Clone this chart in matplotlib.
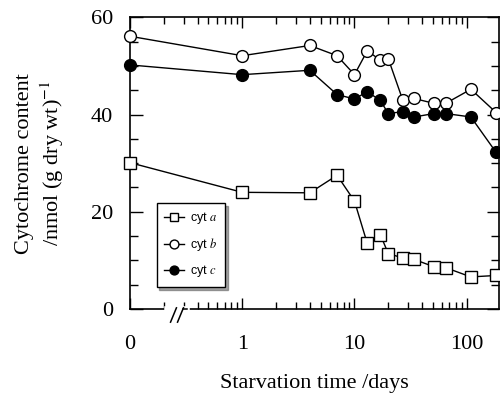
import matplotlib
matplotlib.use("Agg")
import matplotlib.pyplot as plt
import numpy as np
from matplotlib.ticker import FixedLocator, NullFormatter

plt.rcParams['font.family'] = ['Liberation Serif', 'DejaVu Serif']
plt.rcParams['mathtext.fontset'] = 'stix'

# day 0 is drawn at 0.1 on the log axis
days = [0.1, 1, 4, 7, 10, 13, 17, 20, 27, 34, 51, 65, 109, 183]
cyt_a = [30.1, 24.0, 23.9, 27.5, 22.2, 13.5, 15.3, 11.4, 10.5, 10.2, 8.7, 8.5, 6.6, 6.9]
cyt_b = [56.1, 52.1, 54.2, 52.1, 48.2, 53.1, 51.2, 51.5, 42.9, 43.3, 42.3, 42.3, 45.2, 40.4]
cyt_c = [50.2, 48.2, 49.1, 44.1, 43.2, 44.7, 42.9, 40.2, 40.6, 39.5, 40.2, 40.2, 39.5, 32.2]

x_ticks = [0.1, 1, 10, 100]
x_labels = ['0', '1', '10', '100']

fig = plt.figure(figsize=(5.0, 3.94), dpi=100)
ax = fig.add_axes([0.26, 0.2157, 0.737, 0.7404])

ax.plot(days, cyt_a, '-s', color='black', mfc='white', mec='black', ms=8, mew=1.0,
        lw=1.0, label='cyt $\\mathit{a}$', clip_on=False, zorder=3)
ax.plot(days, cyt_b, '-o', color='black', mfc='white', mec='black', ms=8.5, mew=1.0,
        lw=1.0, label='cyt $\\mathit{b}$', clip_on=False, zorder=3)
ax.plot(days, cyt_c, '-o', color='black', mfc='black', mec='black', ms=8.5, mew=1.0,
        lw=1.0, label='cyt $\\mathit{c}$', clip_on=False, zorder=3)

ax.set_xscale('log')
ax.set_xlim(0.1, 192)
ax.set_ylim(0, 60)

ax.xaxis.set_major_locator(FixedLocator(x_ticks))
ax.set_xticklabels(x_labels)
minors = [m * 10.0 ** e for e in (-1, 0, 1) for m in range(2, 10)]
ax.xaxis.set_minor_locator(FixedLocator(minors))
ax.xaxis.set_minor_formatter(NullFormatter())

ax.set_yticks([0, 20, 40, 60])
ax.set_yticks(np.arange(0, 61, 5), minor=True)

ax.tick_params(axis='x', which='major', direction='in', top=True, bottom=True,
               length=8, width=1.0, labelsize=16, pad=19)
ax.tick_params(axis='x', which='minor', direction='in', top=True, bottom=True,
               length=5, width=1.0)
ax.tick_params(axis='y', which='major', direction='in', left=True, right=True,
               length=9, width=1.0, labelsize=16, pad=12)
ax.tick_params(axis='y', which='minor', direction='in', left=True, right=True,
               length=6, width=1.0)
for s in ax.spines.values():
    s.set_linewidth(1.2)

# axis break on the bottom spine
ax.plot([0.100, 0.155], [0, 0], color='white', lw=4, transform=ax.transAxes,
        clip_on=False, zorder=4)
for xc in (0.118, 0.137):
    ax.plot([xc - 0.008, xc + 0.008], [-0.045, 0.004], color='black', lw=1.1,
            transform=ax.transAxes, clip_on=False, zorder=5)
ax.plot([0.145, 0.156], [0.0, 0.0], color='black', lw=1.1, transform=ax.transAxes,
        clip_on=False, zorder=5)

ax.set_xlabel('Starvation time /days', fontsize=16, labelpad=14)
ax.set_ylabel('Cytochrome content\n/nmol (g dry wt)$^{-1}$', fontsize=16,
              linespacing=1.2, labelpad=18)

leg = ax.legend(loc='upper left', bbox_to_anchor=(0.055, 0.385), frameon=True,
                fancybox=False, shadow=True, edgecolor='black',
                markerscale=0.75, handlelength=1.6, handletextpad=0.5,
                labelspacing=0.8, borderpad=0.6,
                prop={'family': 'Liberation Sans', 'size': 9})
leg.get_frame().set_linewidth(1.0)
leg.set_zorder(6)

plt.savefig('out.png', dpi=100)
